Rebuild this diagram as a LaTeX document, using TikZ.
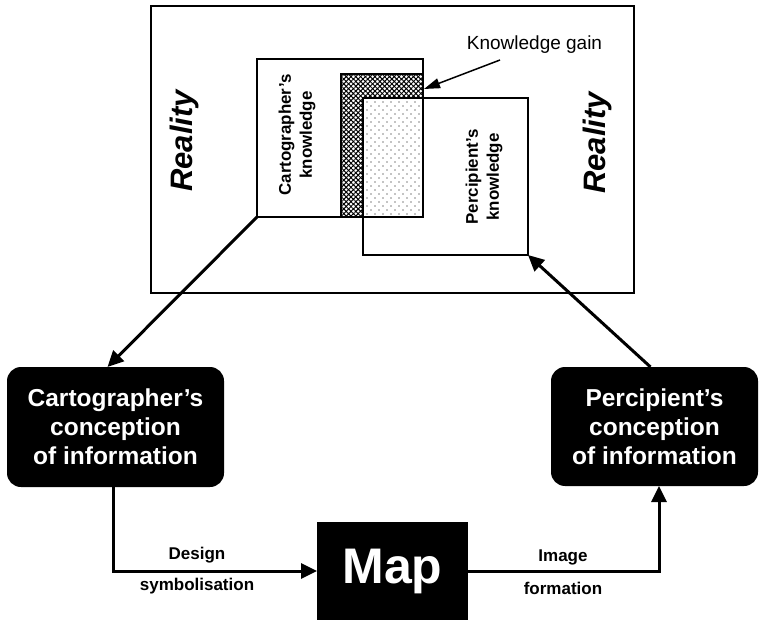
\documentclass[tikz,border=0pt]{standalone}
\usepackage{fontspec}
\setmainfont{Liberation Sans}
\usetikzlibrary{arrows.meta,patterns.meta}
\begin{document}
\begin{tikzpicture}[x=1pt,y=-1pt,
  frame/.style={draw, line width=2pt, inner sep=0pt, outer sep=0pt},
  kbox/.style={draw, line width=1.5pt, inner sep=0pt, outer sep=0pt},
  ktext/.style={rotate=90, align=center, font=\fontsize{16.9}{21}\selectfont\bfseries},
  realtext/.style={rotate=90, font=\fontsize{31}{36}\selectfont\bfseries\itshape},
  blackbox/.style={fill=black, text=white, rounded corners=14pt, align=center, inner sep=0pt, outer sep=0pt,
    font=\fontsize{24.5}{29}\selectfont\bfseries},
  mapbox/.style={fill=black, text=white, inner sep=0pt, outer sep=0pt, font=\fontsize{50}{60}\selectfont\bfseries},
  lbl/.style={font=\fontsize{17}{20}\selectfont\bfseries},
  conn/.style={line width=3pt, -{Triangle[length=16pt,width=15pt]}},
  thinarrow/.style={line width=1.5pt, -{Triangle[length=16pt,width=10pt]}},
]
\useasboundingbox (0,0) rectangle (760,620);

% Reality frame
\node[frame, minimum width=483pt, minimum height=287pt] (real) at (392.5,149.5) {};
\node[realtext] (rl) at (184,141) {Reality};
\node[realtext] (rr) at (597,143) {Reality};

% cartographer's knowledge box
\node[kbox, fill=white, minimum width=166pt, minimum height=158pt] (ck) at (340,138) {};
% knowledge gain (crosshatch)
\fill[pattern={Lines[angle=45,distance=3.4pt,line width=1pt]}] (341,74) rectangle (423,217);
\fill[pattern={Lines[angle=-45,distance=3.4pt,line width=1pt]}] (341,74) rectangle (423,217);
% overlap (dots)
\fill[white] (363,98) rectangle (423,217);
\foreach \yy in {102,110,...,214} {
  \foreach \xx in {367,375,...,419} {
    \fill (\xx,\yy) circle (0.7pt);
  }
}
\foreach \yy in {106,114,...,214} {
  \foreach \xx in {371,379,...,419} {
    \fill (\xx,\yy) circle (0.7pt);
  }
}
\draw[line width=1.2pt] (341,217) -- (341,74) -- (423,74);
\draw[kbox] (ck.north west) rectangle (ck.south east);
% percipient's knowledge box
\node[kbox, minimum width=165pt, minimum height=157pt] (pk) at (445.5,176.5) {};

\node[ktext] (ckt) at (297,135) {Cartographer’s\\knowledge};
\node[ktext] (pkt) at (484,177) {Percipient’s\\knowledge};

% knowledge gain label
\node[font=\fontsize{19}{22}\selectfont] (kg) at (534.5,45) {Knowledge gain};
\coordinate (kgs) at (500,60);
\coordinate (kgt) at (424,89);
\draw[thinarrow] (kgs) -- (kgt);

% bottom boxes
\node[blackbox, minimum width=217pt, minimum height=120pt] (cc) at (115.5,427) {Cartographer’s\\conception\\of information};
\node[blackbox, minimum width=207pt, minimum height=119pt] (pc) at (654.5,426.5) {Percipient’s\\conception\\of information};
\node[mapbox, minimum width=151pt, minimum height=98pt] (map) at (392.5,571) {Map};

% connectors
\draw[conn] (ck.south west) -- ([xshift=-8pt]cc.north);
\draw[conn] ([xshift=-4pt]pc.north) -- (pk.south east);
\draw[conn] ([xshift=-2pt]cc.south) |- (map.west);
\draw[conn] (map.east) -| ([xshift=4.5pt]pc.south);

% connector labels
\node[lbl] (d1) at (197,555) {Design};
\node[lbl] (d2) at (197,586) {symbolisation};
\node[lbl] (i1) at (563,557) {Image};
\node[lbl] (i2) at (563,588) {formation};
\end{tikzpicture}
\end{document}
